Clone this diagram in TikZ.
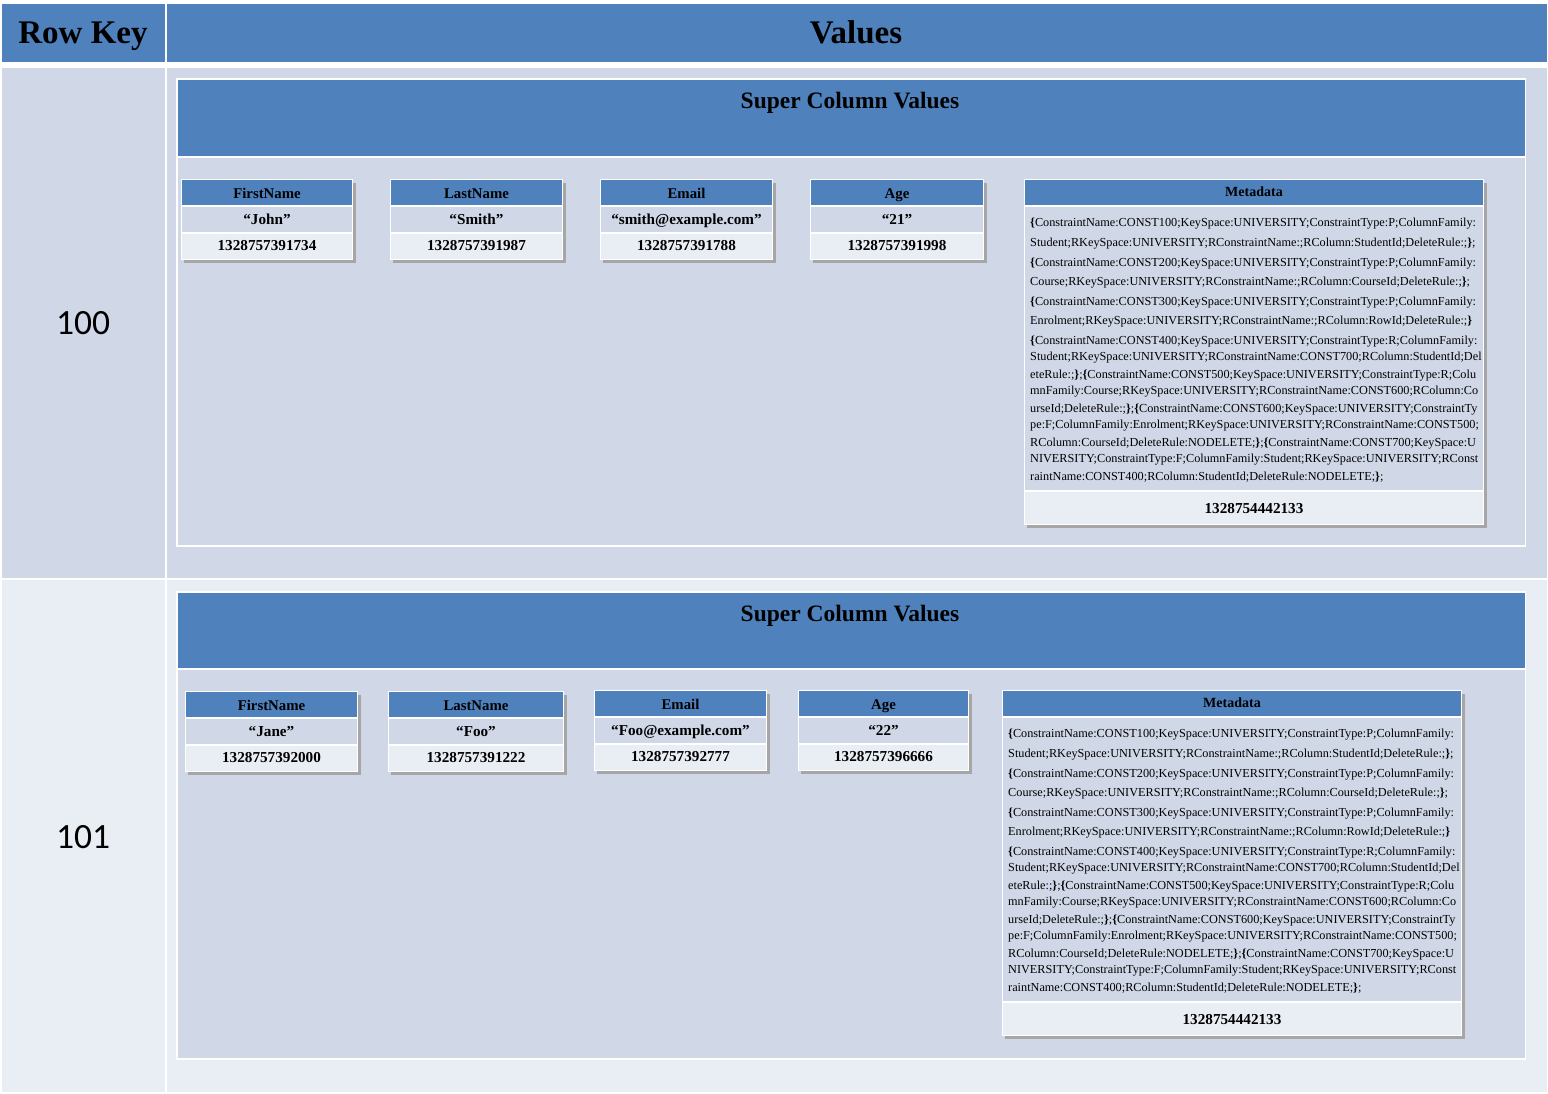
\documentclass[tikz,border=0pt]{standalone}
\usepackage{fontspec}
\setmainfont{Liberation Serif}
\newfontfamily\calib{Carlito}
\definecolor{hblue}{HTML}{4F81BD}
\definecolor{rowA}{HTML}{D0D8E8}
\definecolor{rowB}{HTML}{E9EDF4}
\definecolor{shadowc}{HTML}{A6A6A6}
\tikzset{
  txt/.style={inner sep=0pt, anchor=base},
  bighead/.style={txt, font=\fontsize{33}{36}\selectfont\bfseries},
  keytxt/.style={txt, font=\fontsize{35.5}{38}\selectfont\calib},
  suphead/.style={txt, font=\fontsize{23.5}{26}\selectfont\bfseries},
  sh/.style={txt, font=\fontsize{14.8}{16}\selectfont\bfseries},
  sv/.style={txt, font=\fontsize{15.2}{17}\selectfont\bfseries},
  mh/.style={txt, font=\fontsize{14}{16}\selectfont\bfseries},
  ml/.style={inner sep=0pt, anchor=base west, font=\fontsize{12.25}{14}\selectfont},
}
\newcommand\LB{\textbf{\{}}
\newcommand\RB{\textbf{\}}}
% small table: #1 name, #2 x1, #3 y1, #4 x2, #5 header, #6 value, #7 time
\newcommand\stab[7]{%
  \fill[shadowc] ({#2+2},{#3+3}) rectangle ({#4+3.5},{#3+82.5});
  \fill[white] ({#2-1},{#3-1}) rectangle ({#4+1},{#3+80});
  \fill[hblue] (#2,#3) rectangle (#4,{#3+25});
  \fill[rowA] (#2,{#3+27}) rectangle (#4,{#3+52});
  \fill[rowB] (#2,{#3+54}) rectangle (#4,{#3+79});
  \node[sh] (#1h) at ({(#2+#4)/2},{#3+18}) {#5};
  \node[sv] (#1v) at ({(#2+#4)/2},{#3+44}) {#6};
  \node[sv] (#1t) at ({(#2+#4)/2},{#3+70}) {#7};
}
% metadata table: #1 name, #2 x1, #3 y1
\newcommand\mtab[3]{%
  \fill[shadowc] ({#2+2},{#3+3}) rectangle ({#2+461.5},{#3+347.5});
  \fill[white] ({#2-1},{#3-1}) rectangle ({#2+459},{#3+345});
  \fill[hblue] (#2,#3) rectangle ({#2+458},{#3+25});
  \fill[rowA] (#2,{#3+27}) rectangle ({#2+458},{#3+310});
  \fill[rowB] (#2,{#3+312}) rectangle ({#2+458},{#3+344});
  \node[mh] (#1h) at ({#2+229},{#3+16.6}) {Metadata};
  \node[ml] (#1a) at ({#2+5},{#3+46}) {\LB ConstraintName:CONST100;KeySpace:UNIVERSITY;ConstraintType:P;ColumnFamily:};
  \node[ml] (#1b) at ({#2+5},{#3+66}) {Student;RKeySpace:UNIVERSITY;RConstraintName:;RColumn:StudentId;DeleteRule:;\RB;};
  \node[ml] (#1c) at ({#2+5},{#3+86}) {\LB ConstraintName:CONST200;KeySpace:UNIVERSITY;ConstraintType:P;ColumnFamily:};
  \node[ml] (#1d) at ({#2+5},{#3+105}) {Course;RKeySpace:UNIVERSITY;RConstraintName:;RColumn:CourseId;DeleteRule:;\RB;};
  \node[ml] (#1e) at ({#2+5},{#3+125}) {\LB ConstraintName:CONST300;KeySpace:UNIVERSITY;ConstraintType:P;ColumnFamily:};
  \node[ml] (#1f) at ({#2+5},{#3+144}) {Enrolment;RKeySpace:UNIVERSITY;RConstraintName:;RColumn:RowId;DeleteRule:;\RB};
  \node[ml] (#1g) at ({#2+5},{#3+164}) {\LB ConstraintName:CONST400;KeySpace:UNIVERSITY;ConstraintType:R;ColumnFamily:};
  \node[ml] (#1i) at ({#2+5},{#3+180}) {Student;RKeySpace:UNIVERSITY;RConstraintName:CONST700;RColumn:StudentId;Del};
  \node[ml] (#1j) at ({#2+5},{#3+198}) {eteRule:;\RB;\LB ConstraintName:CONST500;KeySpace:UNIVERSITY;ConstraintType:R;Colu};
  \node[ml] (#1k) at ({#2+5},{#3+214}) {mnFamily:Course;RKeySpace:UNIVERSITY;RConstraintName:CONST600;RColumn:Co};
  \node[ml] (#1l) at ({#2+5},{#3+232}) {urseId;DeleteRule:;\RB;\LB ConstraintName:CONST600;KeySpace:UNIVERSITY;ConstraintTy};
  \node[ml] (#1m) at ({#2+5},{#3+248}) {pe:F;ColumnFamily:Enrolment;RKeySpace:UNIVERSITY;RConstraintName:CONST500;};
  \node[ml] (#1n) at ({#2+5},{#3+266}) {RColumn:CourseId;DeleteRule:NODELETE;\RB;\LB ConstraintName:CONST700;KeySpace:U};
  \node[ml] (#1o) at ({#2+5},{#3+282}) {NIVERSITY;ConstraintType:F;ColumnFamily:Student;RKeySpace:UNIVERSITY;RConst};
  \node[ml] (#1p) at ({#2+5},{#3+300}) {raintName:CONST400;RColumn:StudentId;DeleteRule:NODELETE;\RB;};
  \node[sv] (#1t) at ({#2+229},{#3+333}) {1328754442133};
}
\begin{document}
\begin{tikzpicture}[x=1pt,y=-1pt]
\useasboundingbox (0,0) rectangle (1548,1093);
\fill[white] (0,0) rectangle (1548,1093);
% outer table
\fill[hblue] (1.5,4) rectangle (164.5,62);
\fill[hblue] (166.5,4) rectangle (1547,62);
\fill[rowA] (1.5,67.5) rectangle (164.5,578);
\fill[rowA] (166.5,67.5) rectangle (1547,578);
\fill[rowB] (1.5,579.5) rectangle (164.5,1092);
\fill[rowB] (166.5,579.5) rectangle (1547,1092);
\node[bighead] (rk) at (83,43) {Row Key};
\node[bighead] (vals) at (856,43) {Values};
\node[keytxt] (k100) at (83,334) {100};
\node[keytxt] (k101) at (83,848) {101};
% super column boxes
\fill[white] (176,78) rectangle (1526,546.5);
\fill[hblue] (177.5,79.5) rectangle (1524.5,155.5);
\fill[rowA] (177.5,158) rectangle (1524.5,545);
\node[suphead] (sc1) at (850,108) {Super Column Values};
\fill[white] (176,591) rectangle (1526,1059.5);
\fill[hblue] (177.5,592.5) rectangle (1524.5,667.5);
\fill[rowA] (177.5,670) rectangle (1524.5,1058);
\node[suphead] (sc2) at (850,621) {Super Column Values};
% row 100
\stab{fa}{182}{180}{352}{FirstName}{“John”}{1328757391734}
\stab{la}{391}{180}{562}{LastName}{“Smith”}{1328757391987}
\stab{ea}{601}{180}{772}{Email}{“smith@example.com”}{1328757391788}
\stab{aa}{811}{180}{983}{Age}{“21”}{1328757391998}
\mtab{ma}{1025}{180}
% row 101
\stab{fb}{186}{692}{357}{FirstName}{“Jane”}{1328757392000}
\stab{lb}{389}{692}{563}{LastName}{“Foo”}{1328757391222}
\stab{eb}{595}{691}{766}{Email}{“Foo@example.com”}{1328757392777}
\stab{ab}{799}{691}{968}{Age}{“22”}{1328757396666}
\mtab{mb}{1003}{691}
\end{tikzpicture}
\end{document}
